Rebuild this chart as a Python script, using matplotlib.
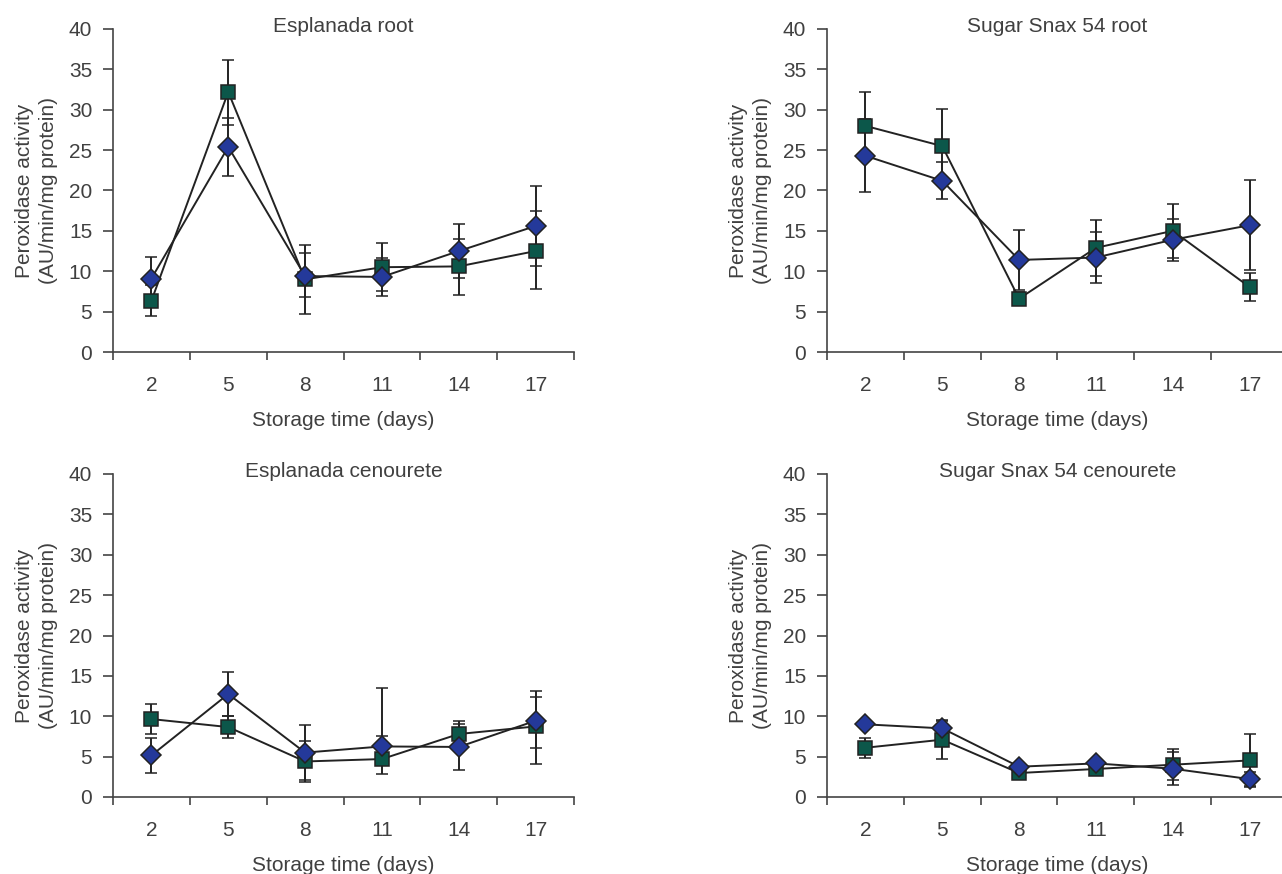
import numpy as np
import matplotlib
matplotlib.use("Agg")
import matplotlib.pyplot as plt

plt.rcParams["font.family"] = ["Liberation Sans", "DejaVu Sans"]

days = ["2", "5", "8", "11", "14", "17"]

# Esplanada root
esp_root_sq = [6.35, 32.2, 9.0, 10.5, 10.6, 12.5]
esp_root_sq_lo = [1.95, 4.1, 4.3, 3.0, 3.5, 4.7]
esp_root_sq_hi = [1.95, 4.0, 4.2, 3.0, 3.4, 4.9]
esp_root_di = [9.1, 25.4, 9.4, 9.3, 12.5, 15.6]
esp_root_di_lo = [2.7, 3.6, 2.6, 2.4, 3.3, 5.0]
esp_root_di_hi = [2.7, 3.6, 2.8, 2.4, 3.3, 4.9]

# Sugar Snax 54 root
ss_root_sq = [28.0, 25.5, 6.6, 12.9, 15.0, 8.05]
ss_root_sq_err = [4.2, 4.6, 0.8, 3.5, 3.3, 1.7]
ss_root_di = [24.3, 21.2, 11.4, 11.7, 13.9, 15.7]
ss_root_di_err = [4.5, 2.3, 3.7, 3.2, 2.6, 5.6]

# Esplanada cenourete
esp_cen_sq = [9.65, 8.66, 4.4, 4.7, 7.8, 8.74]
esp_cen_sq_lo = [1.9, 1.4, 2.6, 1.8, 1.6, 4.6]
esp_cen_sq_hi = [1.9, 1.4, 2.5, 2.8, 1.6, 3.7]
esp_cen_di = [5.15, 12.75, 5.5, 6.26, 6.2, 9.44]
esp_cen_di_lo = [2.2, 2.7, 3.4, 1.3, 2.8, 3.4]
esp_cen_di_hi = [2.1, 2.7, 3.4, 7.2, 2.8, 3.7]

# Sugar Snax 54 cenourete
ss_cen_sq = [6.1, 7.1, 2.97, 3.47, 4.0, 4.53]
ss_cen_sq_err = [1.25, 2.4, 0.3, 0.3, 1.95, 3.3]
ss_cen_di = [9.0, 8.5, 3.75, 4.16, 3.5, 2.22]
ss_cen_di_err = [0.4, 0.9, 0.3, 0.3, 2.05, 0.9]

GREEN = "#0c574a"
BLUE = "#24399a"
DARK = "#222222"
TEXT = "#404040"

W, H = 1282, 874
fig = plt.figure(figsize=(W / 100, H / 100), dpi=100)


def make_axes(left_px, top_px):
    return fig.add_axes([left_px / W, 1 - (top_px + 323) / H, 461 / W, 323 / H])


def draw_panel(ax, title, sq, sq_lo, sq_hi, di, di_lo, di_hi):
    x = np.arange(len(days))
    common = dict(color=DARK, lw=1.4, ecolor=DARK, elinewidth=1.4,
                  capsize=4.5, capthick=1.4, mec=DARK, mew=1.1)
    ax.errorbar(x, sq, yerr=[sq_lo, sq_hi], fmt="-s", ms=10, mfc=GREEN, **common)
    ax.errorbar(x, di, yerr=[di_lo, di_hi], fmt="-D", ms=10, mfc=BLUE, **common)

    ax.set_xlim(-0.5, len(days) - 0.5)
    ax.set_ylim(0, 40)
    ax.set_xticks(x)
    ax.set_xticklabels(days)
    ax.set_xticks(np.arange(-0.5, len(days), 1), minor=True)
    ax.set_yticks(range(0, 41, 5))
    ax.tick_params(axis="x", which="major", length=0, pad=17,
                   labelsize=15, labelcolor=TEXT)
    ax.tick_params(axis="x", which="minor", length=6, width=1.2, color="#444444")
    ax.tick_params(axis="y", length=7, width=1.2, color="#444444", pad=8,
                   labelsize=15, labelcolor=TEXT)
    for side in ("top", "right"):
        ax.spines[side].set_visible(False)
    for side in ("left", "bottom"):
        ax.spines[side].set_color("#444444")
        ax.spines[side].set_linewidth(1.2)

    # explicit y keeps the title from being pushed above the axes
    ax.set_title(title, fontsize=15, color=TEXT, y=1.0, pad=-2)
    ax.set_xlabel("Storage time (days)", fontsize=15, color=TEXT, labelpad=12)
    ax.set_ylabel("Peroxidase activity\n(AU/min/mg protein)", fontsize=15,
                  color=TEXT, linespacing=1.3)
    ax.yaxis.set_label_coords(-0.12, 0.5)


draw_panel(make_axes(113, 29), "Esplanada root",
           esp_root_sq, esp_root_sq_lo, esp_root_sq_hi,
           esp_root_di, esp_root_di_lo, esp_root_di_hi)
draw_panel(make_axes(827, 29), "Sugar Snax 54 root",
           ss_root_sq, ss_root_sq_err, ss_root_sq_err,
           ss_root_di, ss_root_di_err, ss_root_di_err)
draw_panel(make_axes(113, 474), "Esplanada cenourete",
           esp_cen_sq, esp_cen_sq_lo, esp_cen_sq_hi,
           esp_cen_di, esp_cen_di_lo, esp_cen_di_hi)
draw_panel(make_axes(827, 474), "Sugar Snax 54 cenourete",
           ss_cen_sq, ss_cen_sq_err, ss_cen_sq_err,
           ss_cen_di, ss_cen_di_err, ss_cen_di_err)

fig.savefig("out.png", dpi=100)
